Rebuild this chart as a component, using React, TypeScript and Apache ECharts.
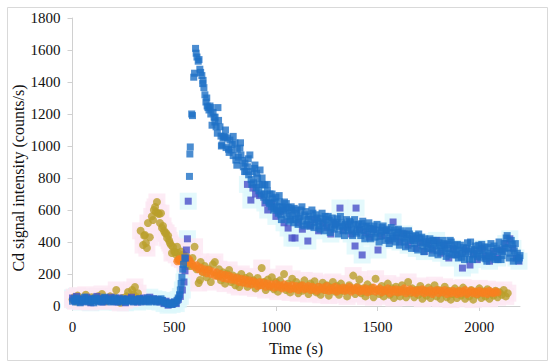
import React, { useEffect, useRef } from "react";
import * as echarts from "echarts";

// Time (s) and Cd signal (counts/s) pairs
const blueSquares: number[][] = [
  [0,30],[8,45],[15,25],[22,50],[30,35],[38,20],[45,40],[52,30],[60,55],[68,35],[75,25],[82,45],[90,30],[98,40],[105,20],[112,50],[120,35],[128,30],[135,45],[142,25],[150,40],[158,55],[165,30],[172,35],[180,45],[188,25],[195,40],[202,30],[210,50],[218,35],[225,25],[232,40],[240,30],[248,45],[255,35],[262,25],[270,40],[278,30],[285,35],[292,45],[300,25],[308,40],[315,30],[322,35],[330,45],[338,25],[345,40],[352,30],[360,35],[368,50],[375,25],[382,40],[390,30],[398,45],[405,35],[412,25],[420,40],[428,30],[435,45],[442,35],[450,20],[458,25],[465,15],[472,10],[480,20],[488,10],[495,15],[502,25],[508,20],[514,35],[520,50],[526,70],[530,100],[534,140],[538,180],[542,230],[546,260],[552,300],
  [575,810],[577,950],[579,994],[586,1200],[590,1190],[596,1430],[600,1455],[605,1610],[612,1556],[618,1530],[622,1540],[630,1460],[636,1440],[642,1410],[646,1365],[651,1320],[656,1275],[662,1250],[666,1240],[671,1225],[676,1250],[681,1240],[686,1130],[691,1210],[696,1180],[701,1180],[706,1120],[715,1240],[718,1160],[725,1120],[730,1062],[735,1006],[740,1050],[745,1060],[750,1056],[755,990],[762,1050],[767,980],[774,1037],[779,975],[785,1010],[790,940],[799,1019],[803,912],[810,980],[815,930],[823,987],[828,944],[835,910],[840,870],[848,893],[853,840],[860,870],[866,820],[872,944],[878,790],[884,840],[890,770],[897,881],[903,740],[910,800],[916,720],[922,850],[928,700],[934,760],[940,680],[946,756],[952,660],[958,720],[965,650],[971,700],[977,620],[983,670],[989,600],[995,650],[1000,680],[1006,620],[1012,580],[1018,650],[1024,570],[1030,620],[1036,600],[1042,650],[1048,600],[1054,560],[1060,615],[1066,580],[1072,540],[1078,600],[1084,565],[1090,610],[1096,540],[1102,580],[1112,550],[1122,600],[1132,530],[1142,570],[1152,510],[1162,560],[1172,540],[1182,580],[1192,520],[1202,550],[1212,500],[1222,545],[1232,515],[1242,560],[1252,500],[1262,535],[1272,490],[1282,525],[1292,505],[1302,545],[1312,495],[1322,520],[1332,475],[1342,510],[1352,490],[1362,530],[1372,480],[1382,510],[1392,465],[1402,500],[1412,480],[1422,515],[1432,470],[1442,495],[1452,450],[1462,485],[1472,465],[1482,500],[1492,455],[1502,475],[1512,435],[1522,490],[1532,455],[1542,470],[1552,420],[1562,460],[1572,435],[1582,475],[1592,440],[1602,480],[1612,420],[1622,455],[1632,400],[1642,445],[1652,470],[1662,410],[1672,435],[1682,390],[1692,425],[1702,450],[1712,395],[1722,375],[1732,420],[1742,385],[1752,405],[1762,360],[1772,410],[1782,375],[1792,345],[1802,395],[1812,365],[1822,410],[1832,350],[1842,385],[1852,330],[1862,400],[1872,355],[1882,320],[1892,385],[1902,345],[1912,305],[1922,365],[1932,330],[1942,395],[1952,295],[1962,355],[1972,320],[1982,375],[1992,310],[2002,345],[2012,385],[2022,320],[2032,295],[2042,365],[2052,330],[2062,300],[2072,375],[2082,340],[2092,290],[2102,350],[2112,315],[2122,390],[2132,425],[2142,365],[2152,330],[2162,385],[2172,345],[2182,300],[2192,285],[2200,315],
  [608,1580],[626,1480],[640,1390],[660,1300],[680,1200],[700,1150],[712,1080],[732,1000],[752,1100],[770,960],[790,1060],[808,880],[826,1020],[846,840],[864,920],[882,760],[895,860],
  [905,830],[918,760],[932,800],[944,700],[957,760],[969,640],[981,700],[993,610],[1004,600],[1016,690],[1027,540],[1039,610],[1051,640],[1063,530],[1075,620],[1087,520],[1099,600],[1109,510],[1119,560],[1128,620],[1137,500],[1147,590],[1157,540],[1167,500],[1177,600],[1187,490],[1197,570],[1207,530],[1217,480],[1227,580],[1237,470],[1247,540],[1257,560],[1267,460],[1277,550],[1287,480],[1297,520],[1307,450],[1317,560],[1327,500],[1337,440],[1347,540],[1357,470],[1367,520],[1377,440],[1387,540],[1397,455],[1407,510],[1417,440],[1427,530],[1437,420],[1447,500],[1457,520],[1467,420],[1477,480],[1487,430],[1497,510],[1507,400],[1517,470],[1527,500],[1537,410],[1547,480],[1557,390],[1567,490],[1577,420],[1587,400],[1597,460],[1607,380],[1617,470],[1627,430],[1637,370],[1647,420],[1657,450],[1667,360],[1677,410],[1687,440],[1697,350],[1707,420],[1717,430],[1727,340],[1737,400],[1747,360],[1757,420],[1767,330],[1777,390],[1787,410],[1797,320],[1807,380],[1817,340],[1827,390],[1837,310],[1847,360],[1857,410],[1867,320],[1877,380],[1887,350],[1897,300],[1907,380],[1917,330],[1927,290],[1937,360],[1947,340],[1957,400],[1967,290],[1977,350],[1987,330],[1997,380],[2007,300],[2017,350],[2027,370],[2037,280],[2047,320],[2057,390],[2067,310],[2077,290],[2087,360],[2097,400],[2107,290],[2117,340],[2127,360],[2137,440],[2147,300],[2157,410],[2167,280],[2177,390],[2187,330],[2197,300]
];

const indigoSquares: number[][] = [
  [0,50],[10,35],[20,60],[30,40],[40,25],[50,45],[60,30],[70,55],[80,40],[90,20],[100,45],[110,35],[120,60],[130,30],[140,45],[150,25],[160,50],[170,35],[180,40],[190,55],[200,30],[210,45],[220,25],[230,50],[240,35],[250,40],[260,20],[270,45],[280,35],[290,55],[300,30],[310,40],[320,25],[330,45],[340,35],[350,50],[360,30],[370,40],[380,55],[390,35],[400,45],[410,30],[420,40],[430,25],[440,35],[450,15],[460,30],[470,5],[480,20],[490,10],[500,25],[510,15],[520,40],[530,60],[540,100],[548,150],[553,220],[556,300],[560,350],[565,420],[569,655],
  [860,760],[877,662],[887,737],[900,700],[920,690],[946,644],[960,600],[980,640],[1000,560],[1020,590],[1040,520],[1060,487],[1079,425],[1094,425],[1110,520],[1130,480],[1157,406],[1170,500],[1190,540],[1210,470],[1230,520],[1250,490],[1270,450],[1290,510],[1315,612],[1330,470],[1350,500],[1370,450],[1389,375],[1394,612],[1410,480],[1424,319],[1440,460],[1460,430],[1480,480],[1502,350],[1520,440],[1540,470],[1560,410],[1576,525],[1590,430],[1610,400],[1630,450],[1650,380],[1670,420],[1690,360],[1710,400],[1730,340],[1750,390],[1770,350],[1790,410],[1810,330],[1830,380],[1850,300],[1870,360],[1890,320],[1917,237],[1930,350],[1954,256],[1970,330],[1990,290],[2010,360],[2030,310],[2050,280],[2070,340],[2090,300],[2110,350],[2130,390],[2150,420],[2165,360],[2180,300],[2195,280]
];

const oliveCircles: number[][] = [
  [0,40],[8,55],[15,30],[25,65],[35,45],[45,30],[55,50],[65,70],[75,40],[85,25],[95,55],[105,45],[115,35],[125,60],[135,40],[145,75],[155,50],[165,30],[175,45],[185,60],[195,35],[205,55],[215,100],[225,40],[235,20],[245,50],[255,35],[265,60],[273,87],[283,45],[293,100],[300,70],[307,119],[315,55],[322,80],
  [335,470],[347,381],[352,440],[356,444],[361,394],[366,362],[371,519],[380,430],[390,560],[396,537],[400,600],[406,619],[410,587],[415,650],[420,581],[425,575],[430,519],[435,580],[440,487],[445,500],[450,470],[455,455],[460,456],[465,425],[470,440],[475,410],[479,394],[485,380],[489,331],[494,369],[500,340],[504,337],[510,320],[514,370],[519,331],[525,300],[530,310],[535,340],[540,290],[545,320],[550,300],[555,270],[560,310],[565,250],[570,290],
  [580,250],[590,300],[600,370],[610,230],[620,144],[627,162],[630,275],[640,210],[650,250],[660,180],[670,230],[680,150],[690,260],[700,275],[710,190],[720,230],[730,160],[740,210],[750,140],[760,200],[770,225],[780,150],[790,190],[800,130],[810,180],[820,119],[830,200],[840,150],[850,175],[860,120],[870,185],[880,140],[890,160],[900,110],[910,175],[920,130],[930,237],[940,150],[950,100],[960,165],[970,120],[980,180],[990,105],[1000,150],[1010,90],[1020,160],[1030,120],[1040,200],[1050,100],[1060,140],[1070,85],[1080,170],[1090,110],[1100,150],[1110,80],[1120,130],[1130,95],[1140,160],[1150,110],[1160,75],[1170,140],[1180,100],[1190,155],[1200,85],[1210,120],[1220,70],[1230,145],[1240,100],[1250,130],[1260,65],[1270,115],[1280,150],[1290,90],[1300,125],[1310,70],[1320,140],[1330,95],[1340,110],[1350,60],[1360,130],[1370,100],[1380,190],[1390,75],[1400,120],[1410,165],[1420,80],[1430,110],[1440,60],[1450,135],[1460,90],[1470,115],[1480,55],[1490,170],[1500,100],[1510,75],[1520,125],[1530,60],[1540,95],[1550,140],[1560,70],[1570,110],[1580,50],[1590,120],[1600,85],[1610,60],[1620,130],[1630,95],[1640,55],[1650,150],[1660,80],[1670,110],[1680,55],[1690,100],[1700,70],[1710,125],[1720,45],[1730,95],[1740,65],[1750,115],[1760,50],[1770,90],[1780,130],[1790,60],[1800,100],[1810,45],[1820,85],[1830,120],[1840,55],[1850,95],[1860,40],[1870,75],[1880,110],[1890,50],[1900,90],[1910,65],[1920,115],[1930,45],[1940,80],[1950,60],[1960,100],[1970,40],[1980,85],[1990,70],[2000,110],[2010,50],[2020,90],[2030,60],[2040,105],[2050,45],[2060,80],[2070,65],[2080,95],[2090,55],[2100,85],[2110,70],[2120,100],[2130,60],[2140,80]
];

const orangeCircles: number[][] = [
  [515,280],[520,290],[525,285],[530,295],[535,280],[540,290],[545,285],[550,300],[555,280],[560,290],[565,285],[570,275],[575,290],[580,270],[590,260],[600,245],[610,255],[620,230],[630,240],[640,215],[650,230],[660,205],[670,225],[680,200],[690,215],[700,190],[710,210],[720,185],[730,200],[740,175],[750,195],[760,170],[770,190],[780,165],[790,180],[800,160],[810,175],[820,150],[830,170],[840,145],[850,165],[860,140],[870,160],[880,135],[890,155],[900,145],[910,125],[920,150],[930,130],[940,145],[950,120],[960,140],[970,125],[980,135],[990,115],[1000,140],[1010,120],[1020,130],[1030,110],[1040,135],[1050,115],[1060,125],[1070,105],[1080,130],[1090,110],[1100,125],[1110,100],[1120,120],[1130,130],[1140,105],[1150,115],[1160,125],[1170,100],[1180,120],[1190,110],[1200,95],[1210,120],[1220,105],[1230,115],[1240,100],[1250,125],[1260,95],[1270,110],[1280,100],[1290,120],[1300,90],[1310,110],[1320,100],[1330,115],[1340,95],[1350,105],[1360,120],[1370,90],[1380,110],[1390,100],[1400,115],[1410,90],[1420,105],[1430,95],[1440,110],[1450,85],[1460,105],[1470,95],[1480,115],[1490,90],[1500,100],[1510,110],[1520,85],[1530,100],[1540,95],[1550,110],[1560,80],[1570,100],[1580,90],[1590,105],[1600,85],[1610,100],[1620,90],[1630,110],[1640,80],[1650,95],[1660,105],[1670,85],[1680,95],[1690,80],[1700,100],[1710,90],[1720,105],[1730,80],[1740,95],[1750,85],[1760,100],[1770,75],[1780,90],[1790,100],[1800,80],[1810,95],[1820,85],[1830,100],[1840,75],[1850,90],[1860,80],[1870,95],[1880,85],[1890,75],[1900,95],[1910,80],[1920,90],[1930,100],[1940,75],[1950,85],[1960,95],[1970,80],[1980,90],[1990,75],[2000,95],[2010,85],[2020,80],[2030,90],[2040,75],[2050,95],[2060,85],[2070,80],[2080,90],[2090,85]
];

const xTicks = [0, 500, 1000, 1500, 2000];
const xTitle = "Time (s)";
const yTitle = "Cd signal intensity (counts/s)";

export default function App() {
  const ref = useRef<HTMLDivElement>(null);
  useEffect(() => {
    if (!ref.current) return;
    const chart = echarts.init(ref.current, undefined, { renderer: "svg" });
    const font = "Liberation Serif";
    chart.setOption({
      animation: false,
      backgroundColor: "#ffffff",
      grid: { left: 72.5, right: 30, top: 18, bottom: 58 },
      xAxis: {
        type: "value",
        min: 0,
        max: 2200,
        interval: 500,
        axisLine: { lineStyle: { color: "#D0D0D0", width: 1 } },
        axisTick: { show: true, length: 5, lineStyle: { color: "#D0D0D0" }, customValues: xTicks },
        axisLabel: { color: "#111", fontFamily: font, fontSize: 15, margin: 13, customValues: xTicks, formatter: (v: number) => String(v) },
        splitLine: { show: false },
      },
      yAxis: {
        type: "value",
        min: 0,
        max: 1800,
        interval: 200,
        axisLine: { show: true, lineStyle: { color: "#D0D0D0", width: 1 } },
        axisTick: { show: true, length: 5, lineStyle: { color: "#D0D0D0" } },
        axisLabel: { color: "#111", fontFamily: font, fontSize: 15, margin: 12, formatter: (v: number) => String(v) },
        splitLine: { show: false },
      },
      graphic: [
        { type: "rect", left: 5, top: 5, shape: { width: 540, height: 353 }, style: { fill: "none", stroke: "#D9D9D9", lineWidth: 1 }, silent: true, z: -10 },
        { type: "text", x: 296, y: 348, style: { text: xTitle, font: `16px ${font}`, fill: "#111", textAlign: "center", textVerticalAlign: "middle" } },
        { type: "text", x: 18, y: 178, rotation: Math.PI / 2, style: { text: yTitle, font: `16px ${font}`, fill: "#111", textAlign: "center", textVerticalAlign: "middle" } },
      ],
      series: [
        { type: "scatter", data: indigoSquares, symbol: "rect", symbolSize: 17, itemStyle: { color: "#DDF8FB" }, z: 1, silent: true },
        { type: "scatter", data: oliveCircles, symbol: "rect", symbolSize: 17, itemStyle: { color: "#FCE7F3" }, z: 1, silent: true },
        { type: "scatter", data: oliveCircles, symbol: "circle", symbolSize: 8, itemStyle: { color: "#B99F2B" }, z: 2 },
        { type: "scatter", data: orangeCircles, symbol: "circle", symbolSize: 8, itemStyle: { color: "#F8801F" }, z: 3 },
        { type: "scatter", data: indigoSquares, symbol: "rect", symbolSize: 7, itemStyle: { color: "#4A50C8" }, z: 4 },
        { type: "scatter", data: blueSquares, symbol: "rect", symbolSize: 7, itemStyle: { color: "#1E70C6" }, z: 5 },
      ],
    });
    return () => chart.dispose();
  }, []);
  return <div ref={ref} style={{ position: "fixed", left: 0, top: 0, width: 550, height: 364 }} />;
}
